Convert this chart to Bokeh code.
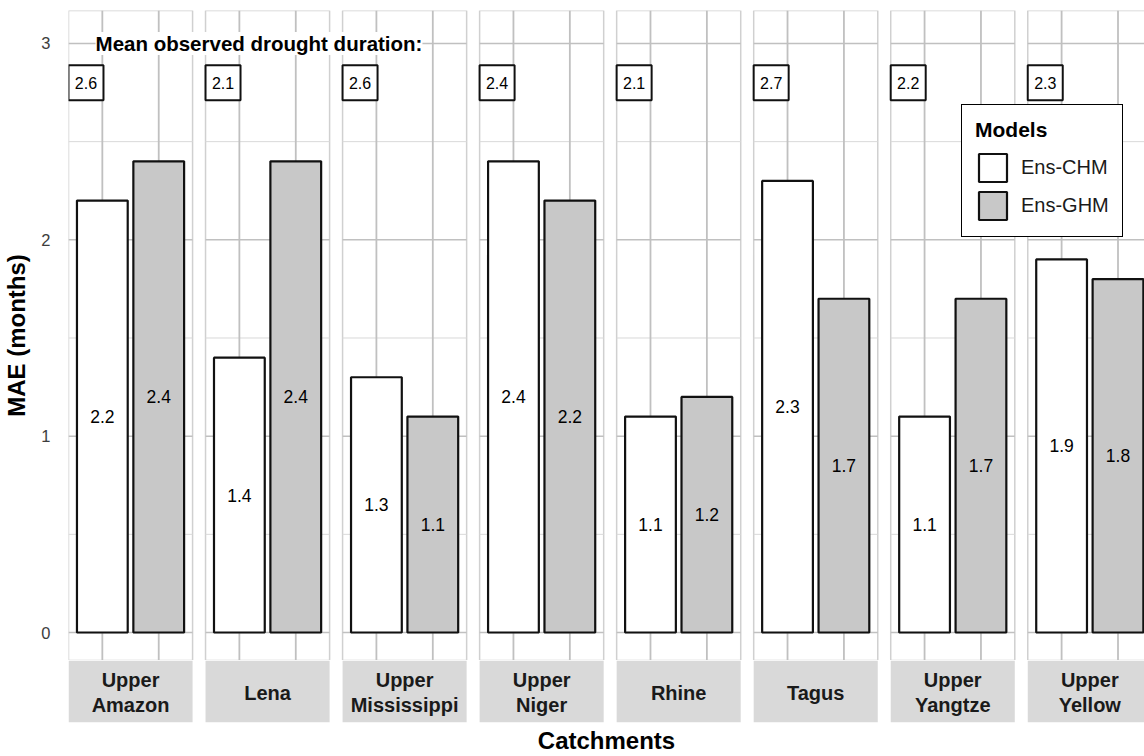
from bokeh.plotting import figure
from bokeh.layouts import column
from bokeh.models import Range1d, FixedTicker, Legend, LegendItem, Title
from bokeh.core.properties import value
from bokeh.embed import file_html
from bokeh.resources import INLINE

# ---------------- data ----------------
catchments = ["Upper\nAmazon", "Lena", "Upper\nMississippi", "Upper\nNiger",
              "Rhine", "Tagus", "Upper\nYangtze", "Upper\nYellow"]
models = ["Ens-CHM", "Ens-GHM"]
mae_chm = [2.2, 1.4, 1.3, 2.4, 1.1, 2.3, 1.1, 1.9]
mae_ghm = [2.4, 2.4, 1.1, 2.2, 1.2, 1.7, 1.7, 1.8]
mean_obs = [2.6, 2.1, 2.6, 2.4, 2.1, 2.7, 2.2, 2.3]
y_ticks = [0, 1, 2, 3]
y_minor = [0.5, 1.5, 2.5]
mean_obs_title = "Mean observed drought duration:"
mean_obs_y = 2.8

# ---------------- layout constants ----------------
FONT = "Liberation Sans"
PANEL_LO, PANEL_HI = 0.4, 2.6
GAP = 0.23
STEP = (PANEL_HI - PANEL_LO) + GAP
Y_TOP = 3.168
Y_PANEL_LO = -0.1426
X_END = 19.48   # right edge of the visible area (last panel slightly cut, as in the original)
BOX_X = 0.71

n = len(catchments)
offs = [i * STEP for i in range(n)]
xr = Range1d(PANEL_LO, X_END)

p = figure(width=1144, height=660, output_backend="svg", toolbar_location=None,
           x_range=xr, y_range=Range1d(Y_PANEL_LO, Y_TOP),
           x_axis_location=None,
           min_border_left=66, min_border_right=0, min_border_top=10, min_border_bottom=0)
p.outline_line_color = None
p.xgrid.visible = False
p.ygrid.visible = False

# y axis
yax = p.yaxis[0]
yax.ticker = FixedTicker(ticks=y_ticks)
yax.minor_tick_line_color = None
yax.major_tick_line_color = None
yax.axis_line_color = None
yax.major_label_standoff = 12
yax.major_label_text_font = FONT
yax.major_label_text_font_size = "16.5px"
yax.major_label_text_color = "#3d3d3d"
yax.axis_label = "MAE (months)"
yax.axis_label_standoff = 8
yax.axis_label_text_font = FONT
yax.axis_label_text_font_size = "24px"
yax.axis_label_text_font_style = "bold"
yax.axis_label_text_color = "black"

# panel backgrounds / borders
p.quad(left=[o + PANEL_LO for o in offs], right=[o + PANEL_HI for o in offs],
       bottom=Y_PANEL_LO, top=Y_TOP, fill_color="white",
       line_color="#d0d0d0", line_width=1.5)

# gridlines per panel
gx0, gx1, gy = [], [], []
for o in offs:
    for yv in y_minor:
        gx0.append(o + PANEL_LO); gx1.append(o + PANEL_HI); gy.append(yv)
p.segment(x0=gx0, y0=gy, x1=gx1, y1=gy, line_color="#d9d9d9", line_width=1)
gx0, gx1, gy = [], [], []
for o in offs:
    for yv in y_ticks:
        gx0.append(o + PANEL_LO); gx1.append(o + PANEL_HI); gy.append(yv)
p.segment(x0=gx0, y0=gy, x1=gx1, y1=gy, line_color="#c0c0c0", line_width=1.5)
vx = []
for o in offs:
    vx += [o + 1, o + 2]
p.segment(x0=vx, y0=Y_PANEL_LO, x1=vx, y1=Y_TOP, line_color="#c0c0c0", line_width=1.8)

# bars
r_chm = p.vbar(x=[o + 1 for o in offs], top=mae_chm, bottom=0, width=0.9,
               fill_color="white", line_color="#111111", line_width=2.2)
r_ghm = p.vbar(x=[o + 2 for o in offs], top=mae_ghm, bottom=0, width=0.9,
               fill_color="#c8c8c8", line_color="#111111", line_width=2.2)

# value labels at half height
p.text(x=[o + 1 for o in offs], y=[v / 2 for v in mae_chm], text=[f"{v:.1f}" for v in mae_chm],
       text_align="center", text_baseline="middle", text_font=value(FONT),
       text_font_size="17.5px", text_color="black")
p.text(x=[o + 2 for o in offs], y=[v / 2 for v in mae_ghm], text=[f"{v:.1f}" for v in mae_ghm],
       text_align="center", text_baseline="middle", text_font=value(FONT),
       text_font_size="17.5px", text_color="black")

# mean observed labels
p.rect(x=[o + BOX_X for o in offs], y=[mean_obs_y] * n, width=35, height=35,
       width_units="screen", height_units="screen",
       fill_color="white", line_color="#111111", line_width=2)
p.text(x=[o + BOX_X for o in offs], y=[mean_obs_y] * n, text=[f"{v:.1f}" for v in mean_obs],
       text_align="center", text_baseline="middle", text_font=value(FONT),
       text_font_size="16px", text_color="black")

# "Mean observed drought duration:" heading
p.text(x=[offs[0] + 0.88], y=[3], text=[mean_obs_title], text_align="left",
       text_baseline="middle", text_font=value(FONT), text_font_size="20.5px",
       text_font_style="bold", text_color="black", background_fill_color="white")

# legend
legend = Legend(items=[LegendItem(label=models[0], renderers=[r_chm]),
                       LegendItem(label=models[1], renderers=[r_ghm])],
                location=(893, 423), title="Models",
                title_text_font=FONT, title_text_font_size="21px", title_text_font_style="bold",
                title_text_color="black", title_standoff=8,
                label_text_font=FONT, label_text_font_size="20px", label_text_color="#1a1a1a",
                glyph_width=35, glyph_height=35, spacing=3, label_standoff=11,
                padding=13, margin=0, border_line_color="black", border_line_width=1.5,
                border_line_alpha=1.0, background_fill_color="white", background_fill_alpha=1.0)
p.add_layout(legend, "center")

# ---------------- strip row (facet labels) ----------------
s = figure(width=1144, height=96, output_backend="svg", toolbar_location=None,
           x_range=xr, y_range=Range1d(0, 1),
           x_axis_location=None, y_axis_location=None,
           min_border_left=66, min_border_right=0, min_border_top=0, min_border_bottom=33)
s.outline_line_color = None
s.xgrid.visible = False
s.ygrid.visible = False
s.quad(left=[o + PANEL_LO for o in offs], right=[o + PANEL_HI for o in offs],
       bottom=0, top=1, fill_color="#d9d9d9", line_color=None)
s.text(x=[o + 1.5 for o in offs], y=[0.48] * n, text=catchments,
       text_align="center", text_baseline="middle", text_font=value(FONT),
       text_font_size="20px", text_font_style="bold", text_color="#1a1a1a",
       text_line_height=1.15)
s.add_layout(Title(text="Catchments", align="center", text_font=FONT, text_font_size="24px",
                   text_font_style="bold", text_color="black", standoff=5), "below")

layout = column(p, s, spacing=0)
open("out.html", "w").write(file_html(layout, INLINE))
